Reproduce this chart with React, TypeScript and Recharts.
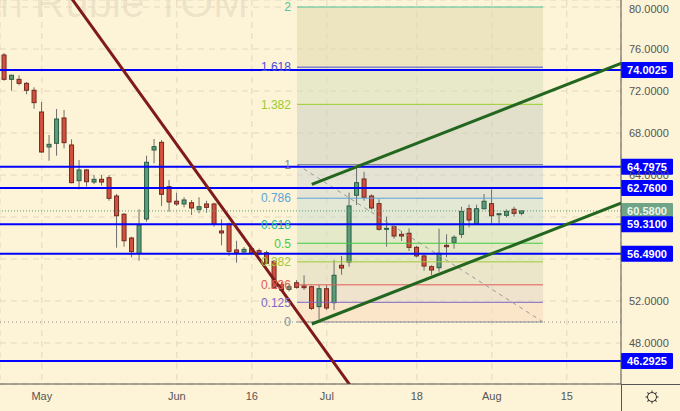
import { ComposedChart, Bar, XAxis, YAxis, CartesianGrid, ReferenceLine, ReferenceArea, ReferenceDot } from 'recharts';

// daily candles, oldest first
const opens = [75.43, 73.11, 73.11, 72.73, 72.07, 70.0, 66.67, 67.02, 69.43, 66.86, 63.46, 64.48, 63.33, 63.59, 63.74, 62.0, 60.26, 58.0, 56.54, 59.81,
  66.38, 67.11, 62.89, 61.5, 61.24, 61.36, 60.73, 61.24, 61.24, 58.67, 59.33, 56.86, 56.67, 56.98, 56.79, 56.6, 55.78, 53.55, 53.11, 53.74,
  53.43, 53.36, 51.46, 53.17, 51.84, 55.4, 55.71, 62.07, 63.62, 62.0, 61.27, 58.83, 59.08, 58.35, 58.45, 57.11, 56.29, 55.27, 55.17, 57.3,
  57.55, 58.35, 60.79, 59.33, 60.79, 61.27, 60.22, 60.16, 60.73, 60.35];
const highs = [75.62, 73.55, 73.5, 72.86, 72.35, 70.95, 67.81, 70.29, 70.19, 67.4, 65.43, 64.57, 64.0, 64.0, 64.0, 62.19, 60.38, 58.12, 60.73, 65.84,
  67.43, 67.33, 63.52, 62.31, 61.88, 61.62, 61.88, 61.55, 61.36, 59.78, 59.46, 57.74, 57.14, 57.17, 56.98, 56.79, 55.9, 53.81, 53.55, 54.0,
  54.45, 53.46, 53.52, 53.55, 55.9, 56.29, 62.31, 64.79, 64.31, 62.16, 61.69, 60.03, 59.21, 58.67, 58.92, 57.24, 56.41, 55.4, 58.89, 58.36,
  58.26, 60.98, 61.17, 61.17, 62.19, 62.64, 60.32, 60.73, 60.98, 60.6];
const lows = [72.98, 72.03, 72.54, 71.69, 70.31, 66.12, 65.36, 65.84, 66.54, 63.21, 62.64, 62.89, 63.14, 62.98, 61.55, 57.08, 57.17, 56.16, 55.84, 59.55,
  65.11, 61.05, 60.5, 61.05, 60.92, 60.19, 60.35, 60.41, 59.08, 57.3, 56.29, 55.65, 56.57, 56.48, 56.35, 55.52, 53.17, 52.92, 52.92, 53.17,
  53.05, 51.14, 50.26, 51.14, 51.14, 54.5, 55.27, 61.14, 61.55, 60.73, 58.7, 57.17, 57.93, 57.71, 56.76, 56.16, 54.89, 54.45, 54.79, 56.16,
  56.98, 58.0, 59.02, 59.3, 60.73, 59.4, 59.4, 59.97, 60.03, 60.16];
const closes = [73.11, 73.5, 72.73, 72.07, 70.89, 66.19, 66.92, 69.33, 67.08, 63.27, 64.48, 63.36, 63.59, 63.33, 61.78, 60.12, 57.74, 56.7, 59.24, 65.21,
  66.7, 62.16, 61.43, 61.24, 61.62, 60.86, 60.98, 60.92, 59.33, 58.48, 56.73, 56.6, 56.92, 56.6, 56.48, 55.59, 53.3, 53.05, 53.36, 53.3,
  53.27, 51.3, 53.17, 51.33, 54.45, 55.14, 61.05, 63.27, 61.88, 60.86, 58.83, 58.92, 58.19, 58.19, 57.11, 56.29, 55.33, 54.95, 56.54, 57.17,
  58.07, 60.54, 59.71, 60.79, 61.5, 60.12, 60.31, 60.54, 60.35, 60.58];

const xTickIdx = [5, 23, 33, 43, 55, 65, 75];
const xTickLabels = ['May', 'Jun', '16', 'Jul', '18', 'Aug', '15'];
const yTicks = [48, 52, 56, 60, 64, 68, 72, 76, 80];
const yTicksCovered = [56, 60]; // hidden behind the price tags

// horizontal levels drawn on the chart
const levelPrices = [74.0025, 64.7975, 62.76, 59.31, 56.49, 46.2925];
const lastPrice = 60.58;
const dottedLevel = 50.0;

// fibonacci retracement
const fibLow = 50.0;
const fibHigh = 65.0;
const fibStart = 39.03;
const fibEnd = 71.83;
const fibRatios = [0, 0.125, 0.236, 0.382, 0.5, 0.618, 0.786, 1, 1.382, 1.618, 2];
const fibColors = ['#8a8c94', '#7b68c8', '#e05a55', '#a2c83a', '#3fcc3f', '#24b890', '#5aa4d8', '#8a8c94', '#9acd32', '#4c4cd8', '#4dc4a0'];
const fibFills = ['#fbd9bb', '#e1d3c3', '#d9d9bb', '#cfdfb5', '#c9dfbb', '#c7ddcf', '#cbd3d1', '#c7cbbf', '#d3dfbb', '#dbd7a9'];

// trend lines [index, price]
const redTrend = [[7.78, 82], [48.1, 42]];
const greenUpper = [[41, 63.11], [83, 74.84]];
const greenLower = [[41, 49.81], [83, 61.54]];
const fibDiagonal = [[fibStart, fibHigh], [fibEnd, fibLow]];

const data = opens.map((o, i) => ({
  i,
  open: o,
  high: highs[i],
  low: lows[i],
  close: closes[i],
  range: [lows[i], highs[i]],
}));

const fibPrice = (r: number) => fibLow + (fibHigh - fibLow) * r;

const Candle = (props: any) => {
  const { x, y, width, height, payload } = props;
  const { open, close, high, low } = payload;
  const top = Math.min(y, y + height);
  const h = Math.abs(height);
  const py = (v: number) => top + ((high - v) / (high - low)) * h;
  const up = close >= open;
  const cx = x + width / 2;
  const bTop = py(Math.max(open, close));
  const bBot = py(Math.min(open, close));
  return (
    <g>
      <line x1={cx} x2={cx} y1={top} y2={top + h} stroke="#6e6e6e" strokeWidth={1} />
      <rect
        x={x + 0.5}
        y={bTop}
        width={width - 1}
        height={Math.max(bBot - bTop, 1)}
        fill={up ? '#5c9c7a' : '#d4503e'}
        stroke={up ? '#2e5c44' : '#6d2a1f'}
        strokeWidth={1}
      />
    </g>
  );
};

const YTick = (props: any) => {
  const { x, y, payload } = props;
  if (yTicksCovered.includes(payload.value)) return <g />;
  return (
    <text x={x} y={y} dy="0.355em" textAnchor="start" fill="#555" fontSize={11}>
      {payload.value.toFixed(4)}
    </text>
  );
};

const priceTag = (value: number, bg: string, color: string) => (props: any) => {
  const { viewBox } = props;
  const x = viewBox.x + viewBox.width;
  const y = viewBox.y;
  return (
    <g>
      <rect x={x} y={y - 8} width={52} height={16} rx={1} fill={bg} />
      <text x={x + 26} y={y + 4} textAnchor="middle" fill={color} fontSize={11} fontWeight="bold">
        {value.toFixed(4)}
      </text>
    </g>
  );
};

const seg = (p: number[][]) => [{ x: p[0][0], y: p[0][1] }, { x: p[1][0], y: p[1][1] }];

export default function App() {
  return (
    <div style={{ position: 'fixed', left: 0, top: 0, width: 680, height: 411, background: '#fdf3d6', fontFamily: '"Liberation Sans", Arial, sans-serif' }}>
      <svg width={680} height={411} style={{ position: 'absolute', left: 0, top: 0 }}>
        <text x={248} y={17} textAnchor="end" fontSize={42} fill="#000" fillOpacity={0.08}>
          US Dollar / Russian Ruble TOM
        </text>
      </svg>
      <div style={{ position: 'absolute', left: 0, top: 0 }}>
        <ComposedChart width={680} height={411} data={data} margin={{ top: 0, right: 0, bottom: 0, left: 0 }}>
          <CartesianGrid stroke="#e3d8bd" strokeDasharray="6 5" />
          <XAxis
            dataKey="i"
            type="number"
            domain={[-0.573, 82.227]}
            allowDataOverflow
            ticks={xTickIdx}
            tickFormatter={(v) => xTickLabels[xTickIdx.indexOf(v)]}
            height={27}
            tickLine={false}
            axisLine={{ stroke: '#555' }}
            tick={{ fill: '#555', fontSize: 11 }}
          />
          <YAxis
            orientation="right"
            width={59}
            domain={[44.095, 80.667]}
            allowDataOverflow
            ticks={yTicks}
            tickLine={false}
            axisLine={{ stroke: '#555' }}
            tick={<YTick />}
          />
          {fibFills.map((c, k) => (
            <ReferenceArea
              key={'fa' + k}
              x1={fibStart}
              x2={fibEnd}
              y1={fibPrice(fibRatios[k])}
              y2={fibPrice(fibRatios[k + 1])}
              fill={c}
              fillOpacity={0.5}
              stroke="none"
              ifOverflow="hidden"
            />
          ))}
          <ReferenceLine y={dottedLevel} stroke="#8a8c94" strokeDasharray="1 3" />
          {fibRatios.map((r, k) => (
            <ReferenceLine
              key={'fl' + k}
              segment={[{ x: fibStart, y: fibPrice(r) }, { x: fibEnd, y: fibPrice(r) }]}
              stroke={fibColors[k]}
              strokeWidth={1}
              ifOverflow="hidden"
            />
          ))}
          {fibRatios.map((r, k) => (
            <ReferenceDot
              key={'fd' + k}
              x={fibStart}
              y={fibPrice(r)}
              r={0.1}
              fill="none"
              stroke="none"
              label={{ value: String(r), position: 'left', offset: 6, fill: fibColors[k], fontSize: 12 }}
            />
          ))}
          <ReferenceLine segment={seg(fibDiagonal)} stroke="#9a9a9a" strokeDasharray="4 4" ifOverflow="hidden" />
          <Bar dataKey="range" barSize={5} shape={<Candle />} isAnimationActive={false} />
          <ReferenceLine y={lastPrice} stroke="#5d9c73" strokeDasharray="1 2" label={priceTag(lastPrice, '#6fa586', '#eef5ee')} />
          {levelPrices.map((p) => (
            <ReferenceLine key={p} y={p} stroke="#0000ff" strokeWidth={2} label={priceTag(p, '#0000ff', '#ffffff')} />
          ))}
          <ReferenceLine segment={seg(redTrend)} stroke="#7e1a1a" strokeWidth={3} ifOverflow="hidden" />
          <ReferenceLine segment={seg(greenUpper)} stroke="#22661f" strokeWidth={3} ifOverflow="hidden" />
          <ReferenceLine segment={seg(greenLower)} stroke="#22661f" strokeWidth={3} ifOverflow="hidden" />
        </ComposedChart>
      </div>
      <svg width={680} height={411} style={{ position: 'absolute', left: 0, top: 0, pointerEvents: 'none' }}>
        <line x1={621.5} x2={621.5} y1={384} y2={411} stroke="#555" />
        <line x1={621} x2={680} y1={384.5} y2={384.5} stroke="#555" />
        <g transform="translate(652,397)" stroke="#333" fill="none" strokeWidth={1}>
          <circle r={4.5} />
          {[0, 45, 90, 135, 180, 225, 270, 315].map((a) => (
            <line key={a} x1={0} y1={4.5} x2={0} y2={6.5} transform={`rotate(${a})`} />
          ))}
        </g>
      </svg>
    </div>
  );
}
